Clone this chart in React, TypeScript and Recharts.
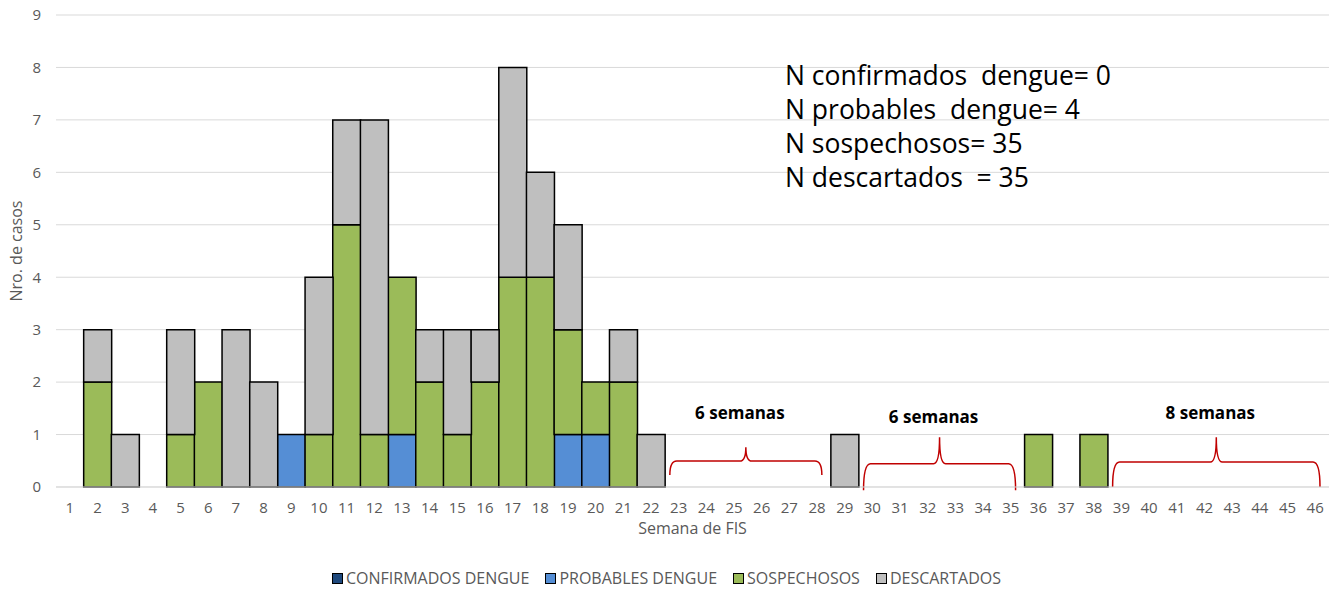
import React from 'react'
import {
  BarChart,
  Bar,
  XAxis,
  YAxis,
  CartesianGrid,
  Legend,
  ReferenceArea,
  Customized
} from 'recharts'

document.body.style.margin = '0'

const weeks = [
  '1', '2', '3', '4', '5', '6', '7', '8', '9', '10',
  '11', '12', '13', '14', '15', '16', '17', '18', '19', '20',
  '21', '22', '23', '24', '25', '26', '27', '28', '29', '30',
  '31', '32', '33', '34', '35', '36', '37', '38', '39', '40',
  '41', '42', '43', '44', '45', '46'
]

const confirmados = [
  0, 0, 0, 0, 0, 0, 0, 0, 0, 0,
  0, 0, 0, 0, 0, 0, 0, 0, 0, 0,
  0, 0, 0, 0, 0, 0, 0, 0, 0, 0,
  0, 0, 0, 0, 0, 0, 0, 0, 0, 0,
  0, 0, 0, 0, 0, 0
]

const probables = [
  0, 0, 0, 0, 0, 0, 0, 0, 1, 0,
  0, 0, 1, 0, 0, 0, 0, 0, 1, 1,
  0, 0, 0, 0, 0, 0, 0, 0, 0, 0,
  0, 0, 0, 0, 0, 0, 0, 0, 0, 0,
  0, 0, 0, 0, 0, 0
]

const sospechosos = [
  0, 2, 0, 0, 1, 2, 0, 0, 0, 1,
  5, 1, 3, 2, 1, 2, 4, 4, 2, 1,
  2, 0, 0, 0, 0, 0, 0, 0, 0, 0,
  0, 0, 0, 0, 0, 1, 0, 1, 0, 0,
  0, 0, 0, 0, 0, 0
]

const descartados = [
  0, 1, 1, 0, 2, 0, 3, 2, 0, 3,
  2, 6, 0, 1, 2, 1, 4, 2, 2, 0,
  1, 1, 0, 0, 0, 0, 0, 0, 1, 0,
  0, 0, 0, 0, 0, 0, 0, 0, 0, 0,
  0, 0, 0, 0, 0, 0
]

const yTicks = [0, 1, 2, 3, 4, 5, 6, 7, 8, 9]

// gaps without cases, marked with a brace (lo/hi = brace ends/tip, at = label height)
const gaps = [
  { from: '23', to: '28', lo: 0.23, hi: 0.76, at: 1.43, text: '6 semanas' },
  { from: '30', to: '35', lo: -0.06, hi: 0.95, at: 1.35, text: '6 semanas' },
  { from: '39', to: '46', lo: 0, hi: 0.95, at: 1.43, text: '8 semanas' }
]

const summary = [
  'N confirmados  dengue= 0',
  'N probables  dengue= 4',
  'N sospechosos= 35',
  'N descartados  = 35'
]

const series = [
  { key: 'confirmados', name: 'CONFIRMADOS DENGUE', color: '#1F497D' },
  { key: 'probables', name: 'PROBABLES DENGUE', color: '#558ED5' },
  { key: 'sospechosos', name: 'SOSPECHOSOS', color: '#9BBB59' },
  { key: 'descartados', name: 'DESCARTADOS', color: '#BFBFBF' }
]

const data = weeks.map((week, i) => ({
  week,
  confirmados: confirmados[i],
  probables: probables[i],
  sospechosos: sospechosos[i],
  descartados: descartados[i]
}))

const FONT = '"Open Sans", "Noto Sans", sans-serif'
const AXIS_TEXT = '#595959'

function Brace(props: any) {
  const { x, y, width, height, gap } = props
  const x0 = x + 5
  const x1 = x + width - 9
  const cx = (x0 + x1) / 2
  const top = y
  const bottom = y + height
  const mid = top + height * 0.5
  const unit = height / (gap.hi - gap.lo)
  const labelY = top - (gap.at - gap.hi) * unit
  const d = [
    `M${x0},${bottom}`,
    `Q${x0},${mid} ${x0 + 7},${mid}`,
    `L${cx - 6},${mid}`,
    `Q${cx},${mid} ${cx},${top}`,
    `Q${cx},${mid} ${cx + 6},${mid}`,
    `L${x1 - 7},${mid}`,
    `Q${x1},${mid} ${x1},${bottom}`
  ].join(' ')
  return (
    <g>
      <path d={d} fill="none" stroke="#C00000" strokeWidth={1.5} />
      <text
        x={cx - 6}
        y={labelY}
        textAnchor="middle"
        dominantBaseline="central"
        fontFamily={FONT}
        fontWeight="bold"
        fontSize={17}
        fill="#000"
      >
        {gap.text}
      </text>
    </g>
  )
}

function LegendBox() {
  return (
    <div
      style={{
        display: 'flex',
        justifyContent: 'center',
        gap: 16,
        fontFamily: FONT,
        fontSize: 16,
        color: AXIS_TEXT,
        paddingLeft: 4
      }}
    >
      {series.map(s => (
        <div key={s.key} style={{ display: 'flex', alignItems: 'center', gap: 3 }}>
          <span
            style={{
              width: 9,
              height: 9,
              background: s.color,
              border: '1px solid #000',
              display: 'inline-block'
            }}
          />
          <span>{s.name}</span>
        </div>
      ))}
    </div>
  )
}

function Summary() {
  return (
    <g>
      {summary.map((line, i) => (
        <text
          key={i}
          x={785}
          y={75 + i * 34}
          dominantBaseline="central"
          fontFamily={FONT}
          fontSize={26.5}
          fill="#000"
          style={{ whiteSpace: 'pre' }}
        >
          {line}
        </text>
      ))}
    </g>
  )
}

export default function App() {
  return (
    <BarChart
      width={1335}
      height={589}
      data={data}
      barCategoryGap={0}
      margin={{ top: 15, right: 6, left: 0, bottom: 0 }}
    >
      <CartesianGrid vertical={false} stroke="#D9D9D9" />
      <XAxis
        dataKey="week"
        interval={0}
        tickLine={false}
        axisLine={{ stroke: '#D9D9D9' }}
        tickMargin={9}
        height={80}
        tick={{ fontSize: 15, fill: AXIS_TEXT, fontFamily: FONT }}
        label={{
          value: 'Semana de FIS',
          position: 'insideTop',
          offset: 36,
          fontSize: 16,
          fill: AXIS_TEXT,
          fontFamily: FONT
        }}
      />
      <YAxis
        width={56}
        domain={[0, 9]}
        ticks={yTicks}
        interval={0}
        tickLine={false}
        axisLine={false}
        tickMargin={9}
        tick={{ fontSize: 15, fill: AXIS_TEXT, fontFamily: FONT }}
        label={{
          value: 'Nro. de casos',
          angle: -90,
          position: 'center',
          dx: -12,
          fontSize: 16,
          fill: AXIS_TEXT,
          fontFamily: FONT
        }}
      />
      <Legend verticalAlign="bottom" height={22} content={() => <LegendBox />} />
      {series.map(s => (
        <Bar
          key={s.key}
          dataKey={s.key}
          name={s.name}
          stackId="casos"
          fill={s.color}
          stroke="#000"
          strokeWidth={1.5}
          isAnimationActive={false}
        />
      ))}
      {gaps.map(g => (
        <ReferenceArea
          key={g.from}
          x1={g.from}
          x2={g.to}
          y1={g.lo}
          y2={g.hi}
          ifOverflow="visible"
          shape={(p: any) => <Brace {...p} gap={g} />}
        />
      ))}
      <Customized component={Summary} />
    </BarChart>
  )
}
